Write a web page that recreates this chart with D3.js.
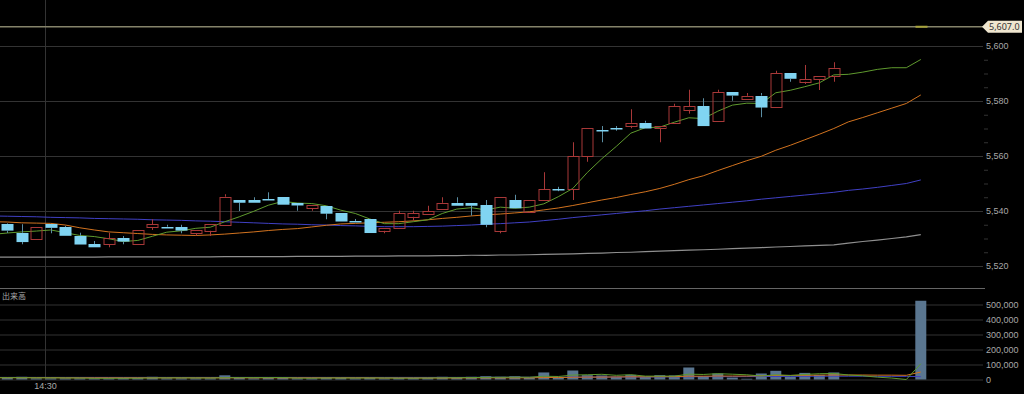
<!DOCTYPE html>
<html lang="ja">
<head>
<meta charset="UTF-8">
<title>日中足チャート</title>
<script src="https://cdnjs.cloudflare.com/ajax/libs/d3/7.8.5/d3.min.js"></script>
<style>
    body {
        margin: 0;
        padding: 0;
        background-color: #000;
        overflow: hidden;
    }
    svg {
        display: block;
        font-family: "Noto Sans", "Noto Sans CJK JP", sans-serif;
    }
    .axis text { fill: #a8a8a8; font-size: 9px; }
    .axis line { stroke: #333; }
    .axis .domain { display: none; }
</style>
</head>
<body>
<div id="chart"></div>
<script>
    // 四本値 (null = 約定なし)
    const opens = [5535.2, 5532.1, 5529.8, 5535.3, 5534.1, 5531.0, 5528.0, 5527.9, 5530.1, 5527.9,
        5534.1, 5534.3, 5534.1, 5531.9, 5532.8, 5534.9, 5544.0, 5544.0, 5544.3, 5545.0,
        5543.0, 5541.0, 5541.9, 5539.2, 5536.2, 5537.0, 5532.8, 5533.9, 5537.9, 5538.9,
        5541.0, 5543.0, 5543.0, 5542.1, 5532.8, 5544.0, 5539.7, 5544.0, 5548.0, 5547.9,
        5560.0, 5569.3, 5570.2, 5571.0, 5572.1, 5570.1, 5572.1, 5576.8, 5578.1, 5572.8,
        5583.2, 5580.8, 5582.0, 5577.9, 5590.1, 5587.0, 5588.0, 5589.1, null, null,
        null, null, null, 5607.0];
    const closes = [5532.8, 5528.8, 5534.1, 5533.9, 5530.9, 5527.9, 5526.8, 5530.1, 5528.8, 5533.1,
        5535.2, 5534.1, 5532.8, 5533.1, 5535.2, 5545.2, 5543.0, 5543.0, 5544.1, 5542.2,
        5542.1, 5542.2, 5539.1, 5536.1, 5536.1, 5531.9, 5533.9, 5539.2, 5539.2, 5540.0,
        5543.0, 5542.0, 5542.0, 5534.9, 5545.0, 5541.0, 5544.0, 5547.9, 5547.9, 5560.0,
        5570.1, 5569.2, 5570.1, 5572.1, 5570.1, 5571.0, 5578.2, 5578.1, 5570.8, 5583.3,
        5581.9, 5581.9, 5577.8, 5590.1, 5588.0, 5588.0, 5589.1, 5592.1, null, null,
        null, null, null, 5607.0];
    const highs = [5535.5, 5535.2, 5534.1, 5535.3, 5534.6, 5532.1, 5529.1, 5532.1, 5530.9, 5533.1,
        5537.0, 5535.0, 5535.0, 5533.1, 5535.2, 5546.1, 5544.0, 5545.0, 5546.8, 5545.0,
        5543.0, 5542.2, 5541.9, 5539.2, 5537.1, 5537.0, 5533.9, 5540.1, 5540.1, 5541.9,
        5545.0, 5545.0, 5543.0, 5544.0, 5545.0, 5545.9, 5544.0, 5554.1, 5548.8, 5565.0,
        5570.1, 5570.9, 5570.9, 5577.0, 5572.8, 5571.0, 5579.0, 5584.1, 5581.0, 5584.1,
        5583.2, 5582.9, 5582.9, 5591.0, 5590.1, 5593.1, 5589.1, 5594.1, null, null,
        null, null, null, 5607.0];
    const lows = [5532.0, 5527.9, 5529.8, 5531.9, 5530.9, 5527.9, 5526.8, 5526.8, 5527.9, 5527.9,
        5533.1, 5533.9, 5531.9, 5531.0, 5530.9, 5534.9, 5540.0, 5543.0, 5544.1, 5542.2,
        5540.1, 5540.1, 5537.0, 5536.1, 5536.1, 5531.9, 5531.9, 5533.9, 5536.5, 5538.9,
        5541.0, 5542.0, 5538.3, 5534.1, 5531.9, 5541.0, 5539.7, 5544.0, 5547.2, 5544.0,
        5557.9, 5565.0, 5569.2, 5570.1, 5570.1, 5565.0, 5572.1, 5575.4, 5570.8, 5572.8,
        5580.1, 5580.8, 5574.1, 5577.9, 5587.0, 5586.2, 5584.0, 5587.0, null, null,
        null, null, null, 5607.0];

    // 出来高
    const volumes = [10000, 18000, 8000, 8000, 8000, 8000, 8000, 8000, 10000, 10000,
        18000, 8000, 8000, 8000, 8000, 28000, 10000, 8000, 10000, 10000,
        8000, 8000, 15000, 10000, 8000, 10000, 8000, 10000, 10000, 12000,
        18000, 13000, 18000, 22000, 18000, 22000, 10000, 47000, 10000, 60000,
        29000, 27000, 18000, 31000, 18000, 29000, 27000, 80000, 22000, 40000,
        13000, 5000, 40000, 58000, 18000, 44000, 31000, 47000, 0, 0,
        0, 0, 0, 525000];

    // 移動平均 (価格) — 先頭は表示範囲の一本前 (index -1)
    const maShort = [5531.5, 5532.0, 5532.4, 5532.7, 5533.1, 5532.1, 5531.1, 5530.7, 5529.9, 5528.9, 5529.3,
        5530.8, 5532.3, 5532.8, 5533.7, 5534.1, 5536.1, 5537.9, 5539.9, 5542.1, 5543.5,
        5542.9, 5542.7, 5541.9, 5540.3, 5539.1, 5537.1, 5535.4, 5535.4, 5536.1, 5536.8,
        5539.1, 5540.7, 5541.2, 5540.4, 5541.4, 5541.0, 5541.4, 5542.6, 5545.2, 5548.2,
        5554.0, 5559.0, 5563.5, 5568.3, 5570.3, 5570.5, 5572.3, 5573.9, 5573.6, 5576.3,
        5578.5, 5579.2, 5579.1, 5583.0, 5583.9, 5585.2, 5586.6, 5589.5, 5589.7, 5590.5,
        5591.5, 5592.1, 5592.1, 5595.1];
    const maMid = [5536.1, 5536.0, 5535.7, 5535.6, 5535.5, 5534.9, 5533.9, 5533.1, 5532.4, 5532.1, 5531.8,
        5531.5, 5531.3, 5531.2, 5531.1, 5531.3, 5531.6, 5532.0, 5532.4, 5532.9, 5533.3,
        5533.6, 5534.2, 5534.8, 5535.3, 5535.5, 5535.7, 5535.9, 5536.1, 5536.4, 5536.8,
        5537.3, 5537.7, 5538.2, 5538.6, 5538.9, 5539.3, 5539.7, 5540.4, 5541.1, 5542.0,
        5543.0, 5544.0, 5544.9, 5546.0, 5547.0, 5548.2, 5549.7, 5551.4, 5552.8, 5554.7,
        5556.5, 5558.3, 5559.9, 5562.1, 5563.9, 5565.9, 5567.9, 5570.0, 5572.4, 5574.0,
        5575.7, 5577.4, 5579.1, 5582.2];
    const maLong = [5538.2, 5538.1, 5538.0, 5537.9, 5537.7, 5537.6, 5537.5, 5537.3, 5537.2, 5537.1, 5537.0,
        5536.8, 5536.7, 5536.6, 5536.4, 5536.3, 5536.1, 5535.9, 5535.7, 5535.5, 5535.3,
        5535.2, 5535.0, 5534.9, 5534.7, 5534.6, 5534.4, 5534.3, 5534.3, 5534.3, 5534.4,
        5534.5, 5534.7, 5534.9, 5535.2, 5535.4, 5535.7, 5536.0, 5536.5, 5537.0, 5537.6,
        5538.1, 5538.6, 5539.1, 5539.6, 5540.1, 5540.7, 5541.2, 5541.7, 5542.2, 5542.7,
        5543.2, 5543.7, 5544.3, 5544.8, 5545.3, 5545.8, 5546.3, 5546.8, 5547.5, 5548.0,
        5548.6, 5549.3, 5550.0, 5551.3];
    const maXLong = [5523.2, 5523.2, 5523.2, 5523.2, 5523.2, 5523.2, 5523.2, 5523.2, 5523.3, 5523.3, 5523.3,
        5523.3, 5523.3, 5523.3, 5523.3, 5523.3, 5523.4, 5523.4, 5523.4, 5523.4, 5523.4,
        5523.5, 5523.5, 5523.5, 5523.5, 5523.6, 5523.6, 5523.6, 5523.7, 5523.7, 5523.7,
        5523.8, 5523.8, 5523.9, 5523.9, 5524.0, 5524.0, 5524.1, 5524.2, 5524.3, 5524.4,
        5524.6, 5524.7, 5524.9, 5525.0, 5525.2, 5525.4, 5525.6, 5525.8, 5525.9, 5526.1,
        5526.3, 5526.5, 5526.7, 5526.9, 5527.1, 5527.3, 5527.5, 5527.7, 5528.3, 5528.9,
        5529.4, 5530.0, 5530.6, 5531.4];

    // 移動平均 (出来高) — 先頭は index -1
    const volMaShort = [12000, 12000, 12000, 11000, 11000, 10400, 10000, 8000, 8000, 8400, 8800,
        10800, 10800, 10800, 10400, 10000, 12000, 12400, 12400, 12800, 13200,
        9200, 8800, 10200, 10200, 9800, 10200, 10200, 9200, 9200, 10000,
        11000, 11800, 12800, 14400, 15000, 15600, 15200, 21800, 20200, 29600,
        31600, 34600, 28000, 32000, 22600, 22600, 22600, 35600, 33600, 38600,
        35400, 31400, 23400, 31400, 27000, 33600, 38600, 40200, 30200, 24600,
        15600, 9600, 0, 105000];
    const volMaMid = [12000, 12000, 12000, 12000, 12000, 11000, 11000, 11000, 11000, 11000, 11000,
        11000, 11000, 11000, 11000, 11000, 11000, 11000, 11000, 11000, 11000,
        11000, 11000, 11000, 11000, 11000, 11000, 10000, 10000, 10000, 10000,
        10000, 10000, 11000, 11000, 11000, 11000, 11000, 13000, 13000, 15000,
        16000, 16000, 17000, 18000, 18000, 19000, 19000, 22000, 22000, 23000,
        23000, 23000, 25000, 27000, 27000, 28000, 29000, 30000, 30000, 30000,
        29000, 29000, 28000, 50000];
    const volMaLong = [14000, 14000, 14000, 14000, 14000, 14000, 14000, 14000, 14000, 14000, 14000,
        14000, 14000, 14000, 14000, 14000, 14000, 14000, 14000, 14000, 14000,
        14000, 14000, 14000, 14000, 14000, 14000, 14000, 14000, 14000, 14000,
        14000, 14000, 14000, 15000, 15000, 15000, 15000, 15000, 15000, 16000,
        16000, 16000, 17000, 17000, 17000, 17000, 18000, 18000, 19000, 19000,
        19000, 19000, 20000, 20000, 21000, 21000, 22000, 22000, 22000, 22000,
        21000, 21000, 21000, 19000];

    // 目盛り
    const priceTicks = [5520, 5540, 5560, 5580, 5600];
    const priceMinorTicks = [5525, 5530, 5535, 5545, 5550, 5555, 5565, 5570, 5575, 5585, 5590, 5595];
    const volumeTicks = [0, 100000, 200000, 300000, 400000, 500000];
    const timeTickIndex = [2.6];
    const timeTickLabels = ["14:30"];
    const lastPrice = 5607.0;

    // 設定
    const width = 1024;
    const height = 394;
    const plotRight = 983;

    const svg = d3.select("#chart")
        .append("svg")
        .attr("width", width)
        .attr("height", height)
        .attr("viewBox", [0, 0, width, height]);

    svg.append("rect").attr("width", width).attr("height", height).attr("fill", "#000");

    svg.append("clipPath").attr("id", "plot-clip")
        .append("rect").attr("x", 0).attr("y", 0).attr("width", plotRight).attr("height", 380);

    const x = d3.scaleLinear().domain([0, 63]).range([7.3, 920.8]);
    const yPrice = d3.scaleLinear().domain([5520, 5600]).range([266, 46]);
    const yVol = d3.scaleLinear().domain([0, 500000]).range([379.5, 304.5]);

    // 時間軸 (縦線 + ラベル)
    svg.append("g")
        .attr("class", "axis")
        .attr("transform", "translate(0,380)")
        .call(d3.axisBottom(x)
            .tickValues(timeTickIndex)
            .tickFormat((d, i) => timeTickLabels[i])
            .tickSize(-380)
            .tickPadding(3));

    // 価格軸
    svg.append("g")
        .attr("class", "axis")
        .attr("transform", `translate(${plotRight},0)`)
        .call(d3.axisRight(yPrice)
            .tickValues(priceTicks)
            .tickFormat(d3.format(","))
            .tickSize(-plotRight)
            .tickPadding(3));

    svg.append("g")
        .attr("class", "axis minor")
        .attr("transform", `translate(${plotRight + 1},0)`)
        .call(d3.axisRight(yPrice)
            .tickValues(priceMinorTicks)
            .tickFormat("")
            .tickSize(4))
        .selectAll("line").attr("stroke", "#555");

    // 出来高軸
    svg.append("g")
        .attr("class", "axis")
        .attr("transform", `translate(${plotRight},0)`)
        .call(d3.axisRight(yVol)
            .tickValues(volumeTicks)
            .tickFormat(d3.format(","))
            .tickSize(-plotRight)
            .tickPadding(3));

    // パネル境界
    svg.append("line")
        .attr("x1", 0).attr("x2", plotRight + 2)
        .attr("y1", 288.5).attr("y2", 288.5)
        .attr("stroke", "#666");

    svg.append("text")
        .attr("x", 2).attr("y", 299)
        .attr("fill", "#a8a8a8")
        .style("font-family", "'Noto Sans CJK JP', sans-serif")
        .style("font-size", "8px")
        .text("出来高");

    // 移動平均線 (配列の先頭は index -1)
    const idx = d3.range(opens.length);
    const maIdx = d3.range(-1, opens.length);
    const line = (ys, arr) => d3.line()
        .x(i => x(i))
        .y(i => ys(arr[i + 1]));

    const priceLineGroup = svg.append("g").attr("clip-path", "url(#plot-clip)");

    const priceLines = [
        { data: maXLong, color: "#8f8f8f", w: 1.2 },
        { data: maLong, color: "#4040c4", w: 1 },
        { data: maMid, color: "#d2731f", w: 1 },
        { data: maShort, color: "#5f9a2e", w: 1 }
    ];
    priceLines.forEach(l => {
        priceLineGroup.append("path")
            .attr("d", line(yPrice, l.data)(maIdx))
            .attr("fill", "none")
            .attr("stroke", l.color)
            .attr("stroke-width", l.w);
    });

    // 現在値ライン
    svg.append("line")
        .attr("x1", 0).attr("x2", plotRight)
        .attr("y1", yPrice(lastPrice)).attr("y2", yPrice(lastPrice))
        .attr("stroke", "#85836a")
        .attr("stroke-width", 1.5);

    // ローソク足
    const bodyW = 11;
    const upColor = "#a83838";
    const candles = svg.append("g");
    idx.filter(i => opens[i] !== null).forEach(i => {
        const cx = Math.round(x(i)) + 0.5;
        const o = opens[i], c = closes[i];
        const up = c > o, flat = c === o;
        const top = yPrice(Math.max(o, c)), bot = yPrice(Math.min(o, c));
        const wickColor = flat ? "#a8a43c" : up ? upColor : "#5b8ea3";

        candles.append("line")
            .attr("x1", cx).attr("x2", cx)
            .attr("y1", yPrice(highs[i])).attr("y2", top)
            .attr("stroke", wickColor);
        candles.append("line")
            .attr("x1", cx).attr("x2", cx)
            .attr("y1", bot).attr("y2", yPrice(lows[i]))
            .attr("stroke", wickColor);

        if (flat) {
            candles.append("rect")
                .attr("x", cx - bodyW / 2 - 0.5).attr("y", top - 1)
                .attr("width", bodyW + 1).attr("height", 2)
                .attr("fill", "#a8a43c");
        } else if (up) {
            candles.append("rect")
                .attr("x", cx - bodyW / 2).attr("y", Math.round(top) + 0.5)
                .attr("width", bodyW).attr("height", Math.max(1, Math.round(bot - top)))
                .attr("fill", "none")
                .attr("stroke", upColor);
        } else {
            candles.append("rect")
                .attr("x", cx - bodyW / 2 - 0.5).attr("y", Math.round(top))
                .attr("width", bodyW + 1).attr("height", Math.max(1.5, bot - top))
                .attr("fill", "#80d4f2");
        }
    });

    // 出来高バー
    svg.append("g")
        .selectAll("rect")
        .data(idx.filter(i => volumes[i] > 0))
        .enter()
        .append("rect")
        .attr("x", i => x(i) - 5.5)
        .attr("width", 11)
        .attr("y", i => yVol(volumes[i]))
        .attr("height", i => yVol(0) - yVol(volumes[i]))
        .attr("fill", "#5a7690");

    const volLineGroup = svg.append("g").attr("clip-path", "url(#plot-clip)");
    const volLines = [
        { data: volMaLong, color: "#4040c4" },
        { data: volMaMid, color: "#d2731f" },
        { data: volMaShort, color: "#5f9a2e" }
    ];
    volLines.forEach(l => {
        volLineGroup.append("path")
            .attr("d", line(yVol, l.data)(maIdx))
            .attr("fill", "none")
            .attr("stroke", l.color)
            .attr("stroke-width", 1);
    });

    // 現在値ラベル
    const ly = yPrice(lastPrice);
    svg.append("path")
        .attr("d", `M${plotRight - 1},${ly} L${plotRight + 5},${ly - 6} L1022,${ly - 6} L1022,${ly + 6} L${plotRight + 5},${ly + 6} Z`)
        .attr("fill", "#efe6cf");
    svg.append("text")
        .attr("x", plotRight + 6)
        .attr("y", ly + 3.3)
        .attr("fill", "#333")
        .style("font-family", "'Noto Sans', sans-serif")
        .style("font-size", "9px")
        .text(d3.format(",.1f")(lastPrice));
</script>
</body>
</html>
